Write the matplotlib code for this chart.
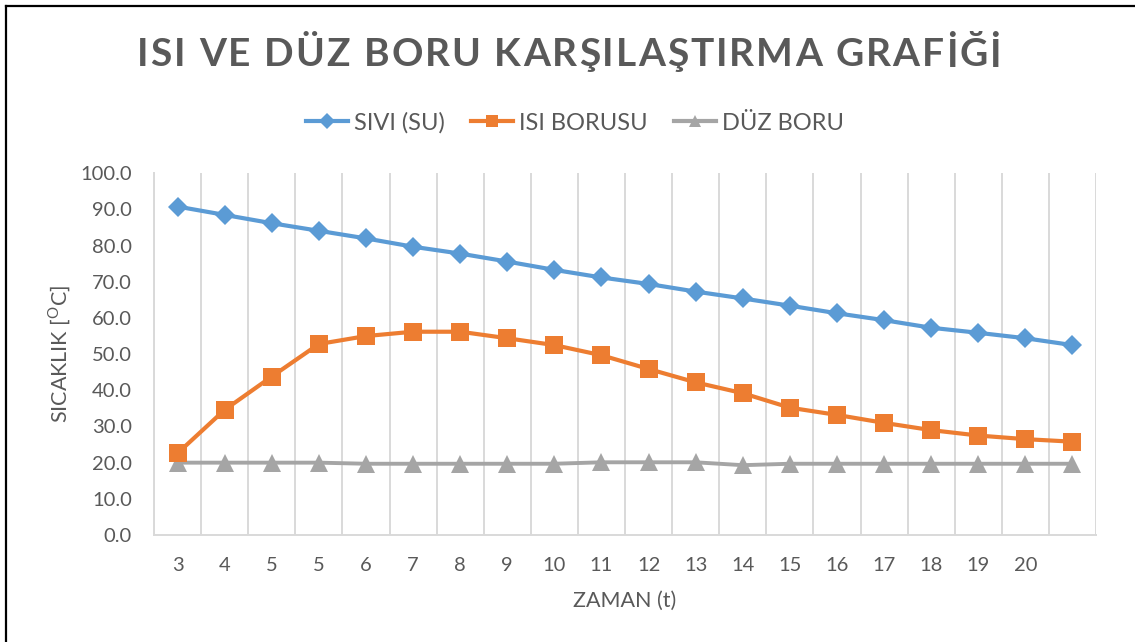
import matplotlib
matplotlib.use("Agg")
import matplotlib.pyplot as plt
from matplotlib.lines import Line2D

plt.rcParams['font.family'] = ['Lato', 'DejaVu Sans']

# Data
zaman_labels = ['3', '4', '5', '5', '6', '7', '8', '9', '10', '11', '12',
                '13', '14', '15', '16', '17', '18', '19', '20', '']
sivi_su = [90.8, 88.5, 86.2, 84.1, 82.0, 79.7, 77.8, 75.6, 73.3, 71.2,
           69.4, 67.3, 65.4, 63.4, 61.3, 59.4, 57.3, 55.9, 54.4, 52.5]
isi_borusu = [22.6, 34.6, 43.8, 52.8, 55.0, 56.2, 56.2, 54.4, 52.5, 49.7,
              45.9, 42.2, 39.2, 35.2, 33.2, 31.0, 29.0, 27.5, 26.5, 25.8]
duz_boru = [20.0, 20.0, 20.0, 20.0, 19.7, 19.7, 19.7, 19.7, 19.7, 20.1,
            20.1, 20.1, 19.3, 19.7, 19.7, 19.7, 19.7, 19.7, 19.7, 19.7]
y_ticks = [0, 10, 20, 30, 40, 50, 60, 70, 80, 90, 100]
title = 'ISI VE DÜZ BORU KARŞILAŞTIRMA GRAFİĞİ'

BLUE = '#5B9BD5'
ORANGE = '#ED7D31'
GRAY = '#A5A5A5'
TEXT = '#595959'
GRID = '#D9D9D9'

W, H = 1135, 642
fig = plt.figure(figsize=(W / 100, H / 100), dpi=100)
ax = fig.add_axes([154 / W, 1 - 535 / H, 942 / W, 361.7 / H])

x = list(range(len(zaman_labels)))

ax.plot(x, sivi_su, color=BLUE, lw=3.0, marker='D', ms=10.5,
        markeredgewidth=0, solid_joinstyle='round', zorder=3)
ax.plot(x, isi_borusu, color=ORANGE, lw=3.0, marker='s', ms=12.5,
        markeredgewidth=0, solid_joinstyle='round', zorder=3)
ax.plot(x, duz_boru, color=GRAY, lw=2.8, marker='^', ms=13,
        markeredgewidth=0, solid_joinstyle='round', zorder=2)

ax.set_xlim(-0.5, len(x) - 0.5)
ax.set_ylim(0, 100)

# category boundaries as vertical grid lines
ax.set_xticks([i - 0.5 for i in range(len(x) + 1)], minor=True)
ax.grid(True, which='minor', axis='x', color=GRID, lw=1.4)
ax.tick_params(which='minor', length=0)

ax.set_xticks(x)
ax.set_xticklabels(zaman_labels)
ax.set_yticks(y_ticks)
ax.set_yticklabels([f'{v:.1f}' for v in y_ticks])
ax.tick_params(which='major', length=0, labelsize=14.5, colors=TEXT)
ax.tick_params(axis='y', pad=16)
ax.tick_params(axis='x', pad=16)

for side in ('top', 'right'):
    ax.spines[side].set_visible(False)
for side in ('left', 'bottom'):
    ax.spines[side].set_color(GRID)
    ax.spines[side].set_linewidth(1.4)

ax.set_xlabel('ZAMAN (t)', fontsize=15.5, color=TEXT, labelpad=12)
ax.set_ylabel(r'SICAKLIK [$^{\mathregular{O}}$C]', fontsize=15.5, color=TEXT,
              labelpad=5)


def spaced_text(s, cx, cy, width_px, **kw):
    """Draw s centred at (cx, cy) in pixels, letter-spaced to width_px."""
    renderer = fig.canvas.get_renderer()
    pieces = []
    for ch in s:
        t = fig.text(0, 0, ch, va='center', ha='left', **kw)
        w = t.get_window_extent(renderer).width if ch != ' ' else None
        pieces.append([t, w])
    probe = fig.text(0, 0, 'I I', **kw)
    probe_i = fig.text(0, 0, 'II', **kw)
    space_w = (probe.get_window_extent(renderer).width
               - probe_i.get_window_extent(renderer).width)
    probe.remove()
    probe_i.remove()
    for p in pieces:
        if p[1] is None:
            p[1] = space_w
    natural = sum(p[1] for p in pieces)
    gap = (width_px - natural) / (len(pieces) - 1)
    xpos = cx - width_px / 2
    for t, w in pieces:
        t.set_position((xpos / W, 1 - cy / H))
        xpos += w + gap


spaced_text(title, 569, 55, 864, fontsize=28, fontweight='bold', color=TEXT)

# legend above the plot
handles = [
    Line2D([], [], color=BLUE, lw=3, marker='D', ms=8, markeredgewidth=0),
    Line2D([], [], color=ORANGE, lw=3, marker='s', ms=9, markeredgewidth=0),
    Line2D([], [], color=GRAY, lw=3, marker='^', ms=9, markeredgewidth=0),
]
fig.legend(handles, ['SIVI (SU)', 'ISI BORUSU', 'DÜZ BORU'],
           loc='center', bbox_to_anchor=(575 / W, 1 - 123 / H), ncol=3,
           frameon=False, fontsize=17, labelcolor=TEXT, handlelength=1.8,
           handletextpad=0.25, columnspacing=1.1)

# outer frame edges
fig.add_artist(Line2D([6 / W, 6 / W], [0, 1 - 6 / H], color='black', lw=1.6,
                      transform=fig.transFigure))
fig.add_artist(Line2D([6 / W, 1], [1 - 6 / H, 1 - 6 / H], color='black',
                      lw=1.6, transform=fig.transFigure))

fig.savefig('out.png', dpi=100, facecolor='white')
